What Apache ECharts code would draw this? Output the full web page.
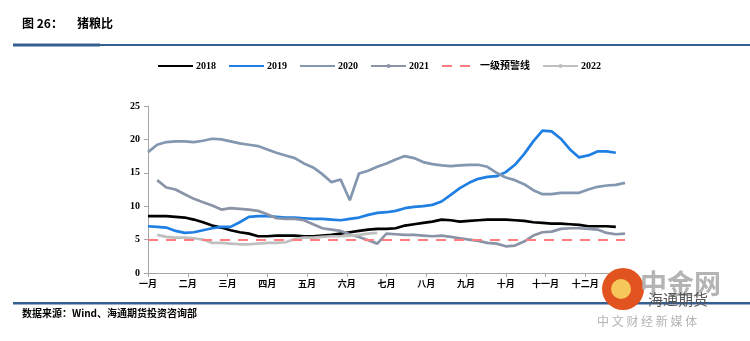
<!DOCTYPE html>
<html>
<head>
<meta charset="utf-8">
<script src="https://cdn.jsdelivr.net/npm/echarts@6/dist/echarts.min.js"></script>
<style>html,body{margin:0;padding:0;background:#fff;}#c{width:750px;height:341px;}</style>
</head>
<body>
<div id="c"></div>
<script>
// Month tick labels (visible axis) and weekly categories (data axis)
var monthLabels = ['一月','二月','三月','四月','五月','六月','七月','八月','九月','十月','十一月','十二月'];
var weeks = ['W1','W2','W3','W4','W5','W6','W7','W8','W9','W10','W11','W12','W13','W14','W15','W16','W17','W18','W19','W20','W21','W22','W23','W24','W25','W26','W27','W28','W29','W30','W31','W32','W33','W34','W35','W36','W37','W38','W39','W40','W41','W42','W43','W44','W45','W46','W47','W48','W49','W50','W51','W52','W53'];
var yTicks = [0, 5, 10, 15, 20, 25];

var s2018 = [8.5,8.5,8.5,8.4,8.3,8.0,7.6,7.1,6.8,6.4,6.1,5.9,5.5,5.5,5.6,5.6,5.6,5.5,5.5,5.6,5.7,5.9,6.1,6.3,6.5,6.6,6.6,6.7,7.1,7.3,7.5,7.7,8.0,7.9,7.7,7.8,7.9,8.0,8.0,8.0,7.9,7.8,7.6,7.5,7.4,7.4,7.3,7.2,7.0,7.0,7.0,6.9];
var s2019 = [7.0,6.9,6.8,6.3,6.0,6.1,6.4,6.7,6.9,6.9,7.6,8.4,8.5,8.5,8.4,8.3,8.3,8.2,8.1,8.1,8.0,7.9,8.1,8.3,8.7,9.0,9.1,9.3,9.7,9.9,10.0,10.2,10.7,11.7,12.7,13.5,14.1,14.4,14.5,15.1,16.2,17.8,19.7,21.3,21.2,20.1,18.5,17.3,17.6,18.2,18.2,18.0];
var s2020 = [18.1,19.2,19.6,19.7,19.7,19.6,19.8,20.1,20.0,19.7,19.4,19.2,19.0,18.5,18.0,17.6,17.2,16.4,15.8,14.8,13.6,14.0,10.9,14.9,15.3,15.9,16.4,17.0,17.5,17.2,16.6,16.3,16.1,16.0,16.1,16.2,16.2,15.9,15.0,14.3,13.9,13.3,12.4,11.8,11.8,12.0,12.0,12.0,12.5,12.9,13.1,13.2,13.5];
var s2021 = [null,13.9,12.8,12.5,11.8,11.1,10.6,10.1,9.5,9.7,9.6,9.5,9.3,8.8,8.2,8.1,8.1,7.9,7.3,6.7,6.5,6.3,5.8,5.4,4.9,4.4,5.9,5.8,5.7,5.7,5.6,5.5,5.6,5.4,5.2,5.0,4.8,4.5,4.4,4.0,4.1,4.7,5.6,6.1,6.2,6.6,6.7,6.7,6.6,6.5,6.0,5.8,5.9];
var s2022 = [null,5.7,5.4,5.3,5.3,5.2,5.0,4.5,4.5,4.4,4.3,4.3,4.4,4.5,4.5,4.6,5.1,5.3,5.3,5.4,5.5,5.5,5.6,5.7,5.9,6.0];
var warnLevel = 5;

var chart = echarts.init(document.getElementById('c'), null, {renderer: 'canvas'});

var serifBold = {fontFamily: '"Liberation Serif", "Noto Sans CJK SC", serif', fontWeight: 'bold', fontSize: 10, color: '#000'};

function lineSeries(name, data, color, withSymbol) {
  return {
    name: name, type: 'line', data: data, xAxisIndex: 1,
    symbol: withSymbol ? 'circle' : 'none', symbolSize: 4, showSymbol: false,
    connectNulls: false, smooth: false,
    lineStyle: {color: color, width: 2.7},
    itemStyle: {color: color},
    emphasis: {disabled: true}, animation: false
  };
}

var option = {
  backgroundColor: '#fff',
  animation: false,
  grid: {left: 148, right: 125, top: 106, bottom: 68, containLabel: false},
  legend: {
    left: 152, top: 56, itemWidth: 35, itemHeight: 5, itemGap: 12,
    textStyle: {fontFamily: '"Liberation Serif", "Noto Sans CJK SC", serif', fontWeight: 'bold', fontSize: 10, color: '#000', padding: [0,0,0,-2]},
    data: [
      {name: '2018', itemStyle: {opacity: 0}},
      {name: '2019', itemStyle: {opacity: 0}},
      {name: '2020', itemStyle: {opacity: 0}},
      {name: '2021'},
      {name: '一级预警线', itemStyle: {opacity: 0}},
      {name: '2022'}
    ]
  },
  xAxis: [
    {
      type: 'value', min: 0, max: 12, interval: 1, position: 'bottom',
      axisLine: {show: true, lineStyle: {color: '#A6A6A6', width: 1}},
      axisTick: {show: true, length: 4, lineStyle: {color: '#A6A6A6'}},
      splitLine: {show: false},
      axisLabel: {
        show: true, margin: 6,
        fontFamily: '"Noto Sans CJK SC", sans-serif', fontWeight: 'bold', fontSize: 9, color: '#000',
        formatter: function (v) { return monthLabels[v] || ''; }
      }
    },
    {
      type: 'category', data: weeks, boundaryGap: false, show: false, position: 'bottom'
    }
  ],
  yAxis: {
    type: 'value', min: yTicks[0], max: yTicks[yTicks.length - 1], interval: 5,
    axisLine: {show: true, lineStyle: {color: '#A6A6A6', width: 1}},
    axisTick: {show: true, length: 4, lineStyle: {color: '#A6A6A6'}},
    splitLine: {show: false},
    axisLabel: Object.assign({margin: 8}, serifBold)
  },
  series: [
    lineSeries('2018', s2018, '#000000', false),
    lineSeries('2019', s2019, '#1F7FE3', false),
    lineSeries('2020', s2020, '#8497B0', false),
    lineSeries('2021', s2021, '#8A94A6', true),
    {
      name: '一级预警线', type: 'line', data: [], xAxisIndex: 1, symbol: 'none',
      lineStyle: {color: '#FF7C80', width: 2, type: [10, 8]},
      itemStyle: {color: '#FF7C80'},
      markLine: {
        silent: true, symbol: ['none', 'none'], label: {show: false},
        lineStyle: {color: '#FF7C80', width: 2, type: [10, 8]},
        data: [{yAxis: warnLevel}]
      }
    },
    lineSeries('2022', s2022, '#BFBFBF', true)
  ],
  graphic: [
    {type: 'text', left: 22, top: 17, style: {text: '图 26：', fontFamily: '"Noto Sans CJK SC", sans-serif', fontWeight: 'bold', fontSize: 12, fill: '#000'}},
    {type: 'text', left: 77, top: 17, style: {text: '猪粮比', fontFamily: '"Noto Sans CJK SC", sans-serif', fontWeight: 'bold', fontSize: 12, fill: '#000'}},
    {type: 'rect', shape: {x: 13, y: 44, width: 737, height: 2}, style: {fill: '#365F91'}},
    {type: 'rect', shape: {x: 13, y: 43.5, width: 87, height: 3}, style: {fill: '#365F91'}},
    {type: 'rect', shape: {x: 13, y: 302, width: 737, height: 2.5}, style: {fill: '#365F91'}},
    {type: 'text', left: 22, top: 308, style: {text: '数据来源：Wind、海通期货投资咨询部', fontFamily: '"Noto Sans CJK SC", sans-serif', fontWeight: 'bold', fontSize: 10, fill: '#000'}},
    // watermark approximation
    {type: 'circle', shape: {cx: 623, cy: 289, r: 21}, style: {fill: '#E2541F'}, z: 10},
    {type: 'circle', shape: {cx: 621, cy: 289, r: 10}, style: {fill: '#F6C75A'}, z: 11},
    {type: 'text', left: 640, top: 270, style: {text: '中金网', fontFamily: '"Noto Sans CJK SC", sans-serif', fontWeight: 'bold', fontSize: 27, fill: '#B4B4B4'}, z: 10},
    {type: 'text', left: 648, top: 292, style: {text: '海通期货', fontFamily: '"Noto Sans CJK SC", sans-serif', fontSize: 15, fill: '#555'}, z: 11},
    {type: 'text', left: 597, top: 315, style: {text: '中 文 财 经 新 媒 体', fontFamily: '"Noto Sans CJK SC", sans-serif', fontSize: 12, fill: '#B4B4B4'}, z: 10}
  ]
};
chart.setOption(option);
</script>
</body>
</html>
